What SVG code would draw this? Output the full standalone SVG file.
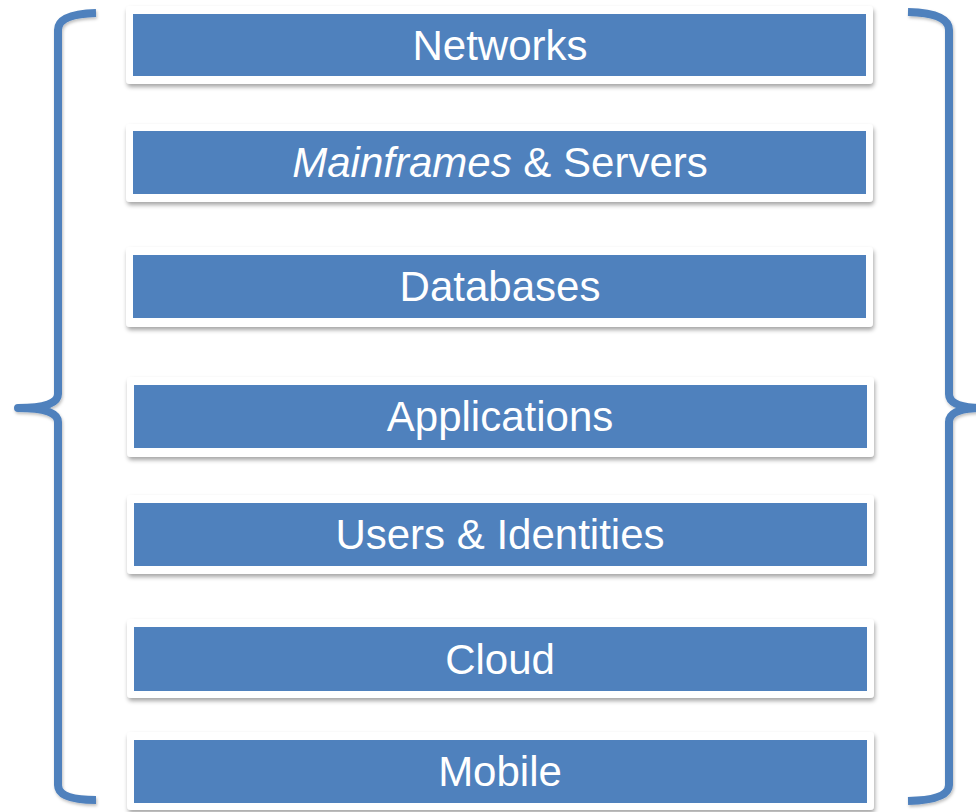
<svg xmlns="http://www.w3.org/2000/svg" width="976" height="812" viewBox="0 0 976 812">
  <defs>
    <filter id="shadow" x="-5%" y="-20%" width="110%" height="150%">
      <feDropShadow dx="1" dy="3" stdDeviation="2" flood-color="#000" flood-opacity="0.35"/>
    </filter>
    <filter id="brace-shadow" x="-20%" y="-5%" width="140%" height="110%">
      <feDropShadow dx="1" dy="2" stdDeviation="1.5" flood-color="#000" flood-opacity="0.25"/>
    </filter>
  </defs>
  <style>
    .frame { fill: #ffffff; filter: url(#shadow); }
    .bar { fill: #4F81BD; }
    .label { fill: #ffffff; font-family: "Liberation Sans", Arial, sans-serif; font-size: 42px; text-anchor: middle; }
    .brace { fill: none; stroke: #4F81BD; stroke-width: 8; stroke-linejoin: round; filter: url(#brace-shadow); }
  </style>
  <rect width="976" height="812" fill="#ffffff"/>

  <g id="braces">
    <path class="brace" stroke-linecap="butt" d="M96,13 Q58,14 58,30 L58,394 Q58,408 18,408 Q58,408 58,422 L58,785 Q58,800 96,800"/>
    <path class="brace" stroke-linecap="butt" d="M908,12 Q949,13 949,30 L949,394 Q949,408 984,408 Q949,408 949,422 L949,785 Q949,800 908,801"/>
  </g>

  <g id="networks">
    <rect class="frame" x="126" y="6" width="747" height="78" rx="4"/>
    <rect class="bar" x="133" y="14" width="733" height="62"/>
    <text class="label" x="500" y="60">Networks</text>
  </g>
  <g id="mainframes-servers">
    <rect class="frame" x="126" y="124" width="747" height="78" rx="4"/>
    <rect class="bar" x="133" y="131" width="733" height="63"/>
    <text class="label" x="500" y="177"><tspan font-style="italic">Mainframes</tspan> &amp; Servers</text>
  </g>
  <g id="databases">
    <rect class="frame" x="126" y="247" width="747" height="80" rx="4"/>
    <rect class="bar" x="133" y="255" width="733" height="63"/>
    <text class="label" x="500" y="301">Databases</text>
  </g>
  <g id="applications">
    <rect class="frame" x="127" y="377" width="747" height="80" rx="4"/>
    <rect class="bar" x="134" y="385" width="733" height="63"/>
    <text class="label" x="500" y="431">Applications</text>
  </g>
  <g id="users-identities">
    <rect class="frame" x="127" y="495" width="747" height="79" rx="4"/>
    <rect class="bar" x="134" y="503" width="733" height="63"/>
    <text class="label" x="500" y="549">Users &amp; Identities</text>
  </g>
  <g id="cloud">
    <rect class="frame" x="127" y="619" width="747" height="79" rx="4"/>
    <rect class="bar" x="134" y="627" width="733" height="64"/>
    <text class="label" x="500" y="674">Cloud</text>
  </g>
  <g id="mobile">
    <rect class="frame" x="127" y="732" width="747" height="78" rx="4"/>
    <rect class="bar" x="134" y="740" width="733" height="63"/>
    <text class="label" x="500" y="786">Mobile</text>
  </g>
</svg>
